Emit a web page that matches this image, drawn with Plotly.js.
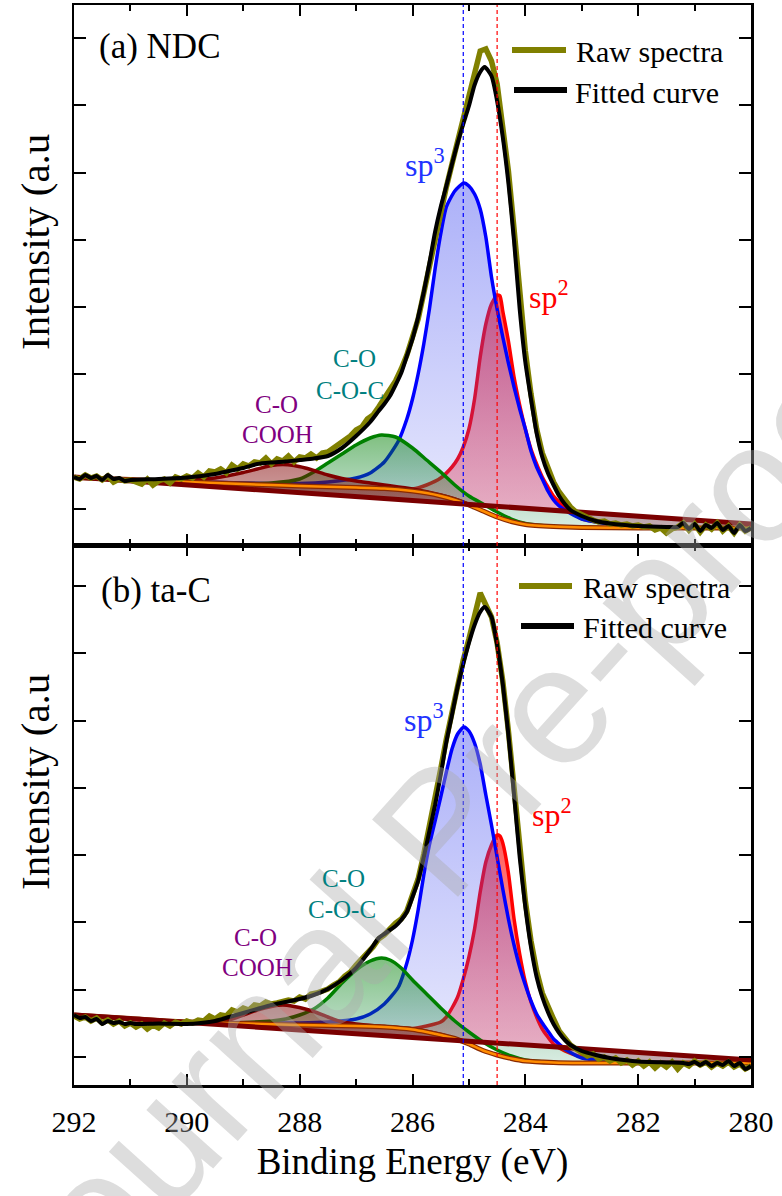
<!DOCTYPE html>
<html><head><meta charset="utf-8">
<script src="https://cdn.plot.ly/plotly-3.0.1.min.js"></script>
<style>html,body{margin:0;padding:0;background:#fff}#chart{width:782px;height:1196px}</style>
</head><body><div id="chart"></div>
<script>
// ---------- shared energy grid of the raw spectra (eV) ----------
const rawE = [292.0,291.9,291.8,291.7,291.6,291.5,291.4,291.3,291.2,291.1,
291.0,290.9,290.8,290.7,290.6,290.5,290.4,290.3,290.2,290.1,
290.0,289.9,289.8,289.7,289.6,289.5,289.4,289.3,289.2,289.1,
289.0,288.9,288.8,288.7,288.6,288.5,288.4,288.3,288.2,288.1,
288.0,287.9,287.8,287.7,287.6,287.5,287.4,287.3,287.2,287.1,
287.0,286.9,286.8,286.7,286.6,286.5,286.4,286.3,286.2,286.1,
286.0,285.9,285.8,285.7,285.6,285.5,285.4,285.3,285.2,285.1,
285.0,284.9,284.8,284.7,284.6,284.5,284.4,284.3,284.2,284.1,
284.0,283.9,283.8,283.7,283.6,283.5,283.4,283.3,283.2,283.1,
283.0,282.9,282.8,282.7,282.6,282.5,282.4,282.3,282.2,282.1,
282.0,281.9,281.8,281.7,281.6,281.5,281.4,281.3,281.2,281.1,
281.0,280.9,280.8,280.7,280.6,280.5,280.4,280.3,280.2,280.1,
280.0];

// ---------- (a) NDC ----------
const raw_a = [32,30,34,31,33,29,33,27,30,28,
29,27,25,30,24,28,30,26,32,30,
33,31,36,32,38,37,40,36,44,40,
45,43,47,46,51,45,50,48,53,47,
52,51,55,51,56,57,61,64,69,73,
79,82,90,94,102,110,118,128,140,154,
172,190,216,242,272,300,322,345,368,392,
412,440,458,460,448,425,385,338,280,215,
158,115,80,56,40,27,17,9,2,-3,
-6,-9,-11,-13,-12,-15,-14,-16,-15,-17,
-16,-18,-17,-21,-19,-24,-20,-18,-14,-21,
-15,-23,-16,-20,-14,-22,-17,-24,-16,-22,
-19];
const fitE_a = [292.0,291.9,291.8,291.7,291.6,291.5,291.4,291.3,291.2,291.1,291.0,290.5,290.0,289.5,289.25,289.0,288.75,288.5,288.25,288.0,287.75,287.5,287.25,287.0,286.75,286.6,286.5,286.4,286.3,286.2,286.1,286.0,285.9,285.8,285.7,285.6,285.5,285.4,285.3,285.2,285.1,285.0,284.9,284.8,284.72,284.6,284.5,284.4,284.3,284.2,284.1,284.0,283.9,283.8,283.7,283.6,283.5,283.4,283.3,283.2,283.0,282.75,282.5,282.0,281.5,281.3,281.2,281.1,281.0,280.9,280.8,280.7,280.6,280.5,280.4,280.3,280.2,280.1,280.0];
const fit_a = [32,30,34,31,33,29,34,30,31,28,29,30,31.5,35,38,41,45,46.5,47.5,49,50.5,53,61,73,87,98,105,113,124,136,153,170,192,217,246,277,302,323,345,366,385,403,424,437,442,433,408,372,326,268,200,147,110,76,52,36,24,13,5,-1,-7,-12,-14.5,-17,-18,-18,-14,-20,-15,-22,-16,-19,-14,-21,-17,-24,-16,-22,-19];
const sp3E_a = [292,291,290,289,288,287.5,287,286.75,286.5,286.25,286.1,286.0,285.9,285.8,285.7,285.6,285.5,285.4,285.25,285.09,285.0,284.9,284.8,284.7,284.6,284.5,284.4,284.3,284.2,284.1,284.0,283.9,283.8,283.7,283.6,283.5,283.4,283.3,283.0,282.5,282.0,281.0,280.0];
const sp3_a = [31.5,29.5,27.5,26,25.5,27,31,36,47,68,90,110,135,165,200,240,275,302,318,326,323,315,300,272,232,200,172,146,122,100,80,58,42,30,18,9,3,-1,-10,-15,-17.5,-19,-19];
const sp2E_a = [292,291,290,289,288,287,286.5,286.0,285.75,285.5,285.3,285.2,285.1,285.0,284.9,284.8,284.7,284.6,284.5,284.45,284.4,284.3,284.2,284.1,284.0,283.9,283.8,283.7,283.6,283.5,283.4,283.3,283.0,282.5,282.0,281.0,280.0];
const sp2_a = [31.5,29.5,27,25,23.5,22,21.5,20,24,31,42,50,62,80,110,152,185,205,214,213,198,168,132,104,80,60,45,32,22,13,7,2,-10,-15,-17.5,-19,-19];
const coocE_a = [292,291,290,289,288.5,288,287.75,287.5,287.25,287,286.75,286.55,286.3,286.0,285.75,285.5,285.25,285.0,284.75,284.5,284.25,284.0,283.5,283.0,282.0,280.0];
const cooc_a = [31.5,29.5,27,25.5,26,30,37,46,55,64,71,74,72,61,49,37,24,13,5,-3,-10,-14.5,-17.5,-18.5,-19,-19];
const coohE_a = [290.5,290.0,289.75,289.5,289.25,289.0,288.75,288.5,288.3,288.1,287.9,287.75,287.5,287.25,287.0,286.75,286.5,286.0,285.5,285.25,285.0];
const cooh_a = [28,28.5,29.5,31,33.5,36.5,40,43.5,44.5,43.5,41,38.5,34,30.5,28,26,24,20,14,10,4.5];
const shirE_a = [292,291,290,289,288,287,286.5,286,285.75,285.5,285.25,285,284.75,284.5,284.25,284,283.5,283,282,280];
const shir_a = [31.5,29.5,27,25,23,21.5,20.5,18,16,13,9,4,-2,-8,-12.5,-15.5,-17.5,-18.5,-19,-19];
const linE = [292, 280];
const lin_a = [32, -15];

// ---------- (b) ta-C ----------
const raw_b = [41,38,40,36,39,34,37,33,36,31,
34,30,33,28,32,29,34,31,35,33,
36,34,37,36,41,38,42,41,47,45,
49,47,52,51,55,53,54,55,57,56,
60,58,63,64,66,68,72,75,81,85,
92,98,104,110,118,122,128,134,138,146,
162,178,203,230,256,288,318,346,372,397,
418,440,464,452,440,414,376,326,268,205,
156,116,86,64,50,38,26,19,12,8,
5,1,3,-2,0,-4,-1,-6,-3,-8,
-4,-9,-5,-11,-6,-10,-5,-12,-6,-9,
-4,-8,-5,-10,-6,-9,-5,-10,-7,-12,
-9];
const fitE_b = [292.0,291.9,291.8,291.7,291.6,291.5,291.4,291.3,291.2,291.1,291.0,290.9,290.5,290.0,289.75,289.5,289.25,289.0,288.75,288.5,288.25,288.0,287.75,287.5,287.25,287.0,286.75,286.6,286.5,286.4,286.3,286.2,286.1,286.0,285.9,285.8,285.7,285.6,285.5,285.4,285.3,285.2,285.1,285.0,284.9,284.8,284.72,284.6,284.5,284.4,284.3,284.2,284.1,284.0,283.9,283.8,283.7,283.6,283.5,283.4,283.3,283.2,283.0,282.75,282.5,282.25,282.0,281.5,281.2,281.1,281.0,280.9,280.8,280.7,280.6,280.5,280.4,280.3,280.2,280.1,280.0];
const fit_b = [42,39,40,36,38,33,36,34,35,33,34,33,33.5,33,34,36,40,44,48,52,55,58,62,68,77,89,107,119,123,127,131,137,145,160,176,200,226,252,282,315,342,370,393,414,432,445,450,440,412,373,322,262,200,150,110,80,60,45,33,24,17,12,6,2,-1,-3,-4.5,-5.5,-6,-7,-5,-8,-5,-9,-6,-8,-4,-9,-6,-12,-9];
const sp3E_b = [292,291,290,289,288,287.5,287,286.75,286.5,286.25,286.1,286.0,285.9,285.8,285.7,285.6,285.5,285.4,285.3,285.2,285.09,285.0,284.9,284.8,284.7,284.6,284.5,284.4,284.3,284.2,284.1,284.0,283.9,283.8,283.7,283.6,283.5,283.4,283.3,283.0,282.5,282.0,281.0,280.0];
const sp3_b = [42,38.5,35,34,34,35,38,43,53,70,94,117,147,182,212,236,260,285,308,323,330,326,314,293,262,232,200,168,138,112,90,72,56,43,34,26,18,13,8,-1,-4,-5,-6,-6];
const sp2E_b = [292,291,290,289,288,287,286.5,286.0,285.75,285.5,285.4,285.3,285.2,285.1,285.0,284.9,284.8,284.7,284.6,284.5,284.45,284.4,284.3,284.2,284.1,284.0,283.9,283.8,283.7,283.6,283.5,283.3,283.0,282.5,282.0,281.0,280.0];
const sp2_b = [42,38.5,35,33.5,32,31,30.5,28.5,31,35,40,49,60,78,100,128,165,195,212,222,221,214,184,138,103,75,55,40,28,20,13,6,0,-4,-5.5,-6,-6];
const coocE_b = [292,291,290,289.5,289,288.5,288.25,288,287.75,287.5,287.25,287,286.75,286.55,286.4,286.2,286.0,285.75,285.5,285.25,285.0,284.75,284.5,284.25,284.0,283.5,283.0,282.0,280.0];
const cooc_b = [42,38.5,35,34,34.5,36,38,42,48,59,74,87,96,99,97,89,77,63,49,36,25,15,7,1,-3,-5.5,-6,-6,-6];
const coohE_b = [290.5,290.0,289.75,289.5,289.25,289.0,288.75,288.5,288.3,288.1,287.9,287.75,287.5,287.25,287.0,286.5,286.0,285.5,285.25,285.0];
const cooh_b = [36.5,35.5,35.5,36,37,42,47,50.5,52,50.5,48,45.5,40,35,33,30.5,28,22.5,18.5,14];
const shirE_b = [292,291,290,289,288,287,286.5,286,285.75,285.5,285.25,285,284.75,284.5,284.25,284,283.5,283,282,280];
const shir_b = [42,38.5,35,33.5,32,31,30,27.5,25,22,18.5,13,6.5,2,-1.5,-4,-5.5,-6,-6,-6];
const lin_b = [42, -3];

// reference peak positions (dashed lines)
const peakPos = [285.1, 284.5];
const xTicks = [292, 290, 288, 286, 284, 282, 280];

// ---------- styling ----------
const SERIF = 'Liberation Serif';
const C = {
  raw:'#808000', fit:'#000000', sp3:'#0000ff', sp2:'#ff0000', cooc:'#008000', cooh:'#800000',
  lin:'#7a0000', shirEdge:'#8a2a00', shir:'#ff8c00'
};
const G = {
  sp2:['rgba(255,100,100,0.4)','rgba(255,20,20,0.7)'],
  sp3:['rgba(70,80,240,0.12)','rgba(70,80,240,0.45)'],
  cooc:['rgba(0,128,60,0.15)','rgba(0,128,0,0.5)'],
  cooh:['rgba(128,0,0,0.35)','rgba(128,0,0,0.5)']
};

function area(E, H, cE, cH, g, xa, ya){
  return {type:'scatter', mode:'lines', x:E.concat(cE), y:H.concat(cH), xaxis:xa, yaxis:ya,
    line:{width:0, color:'rgba(0,0,0,0)'}, fill:'toself', fillcolor:g[1],
    fillgradient:{type:'vertical', colorscale:[[0,g[0]],[1,g[1]]]},
    hoverinfo:'skip', showlegend:false};
}
function curve(E, H, color, width, xa, ya, shape){
  return {type:'scatter', mode:'lines', x:E, y:H, xaxis:xa, yaxis:ya,
    line:{color:color, width:width, shape:shape||'spline', smoothing:0.6}, hoverinfo:'skip', showlegend:false};
}
function panel(d, xa, ya){
  const cE = [linE[1], linE[0]], cH = [d.lin[1], d.lin[0]];
  return [
    area(d.sp2E, d.sp2, cE, cH, G.sp2, xa, ya), curve(d.sp2E, d.sp2, C.sp2, 3.5, xa, ya),
    area(d.sp3E, d.sp3, cE, cH, G.sp3, xa, ya), curve(d.sp3E, d.sp3, C.sp3, 3.5, xa, ya),
    area(d.coocE, d.cooc, cE, cH, G.cooc, xa, ya), curve(d.coocE, d.cooc, C.cooc, 3.5, xa, ya),
    area(d.coohE, d.cooh, [], [], G.cooh, xa, ya), curve(d.coohE, d.cooh, C.cooh, 3.5, xa, ya),
    curve(d.shirE, d.shir, C.shirEdge, 5, xa, ya), curve(d.shirE, d.shir, C.shir, 2.5, xa, ya),
    curve(linE, d.lin, C.lin, 5, xa, ya, 'linear'),
    curve(rawE, d.raw, C.raw, 5.5, xa, ya, 'linear'),
    curve(d.fitE, d.fit, C.fit, 4, xa, ya)
  ];
}
const A = {sp2E:sp2E_a, sp2:sp2_a, sp3E:sp3E_a, sp3:sp3_a, coocE:coocE_a, cooc:cooc_a, coohE:coohE_a, cooh:cooh_a,
  shirE:shirE_a, shir:shir_a, lin:lin_a, raw:raw_a, fitE:fitE_a, fit:fit_a};
const B = {sp2E:sp2E_b, sp2:sp2_b, sp3E:sp3E_b, sp3:sp3_b, coocE:coocE_b, cooc:cooc_b, coohE:coohE_b, cooh:cooh_b,
  shirE:shirE_b, shir:shir_b, lin:lin_b, raw:raw_b, fitE:fitE_b, fit:fit_b};

const traces = panel(A, 'x2', 'y2').concat(panel(B, 'x', 'y'));

const xBase = {
  range:[292, 280], tickmode:'array', tickvals:xTicks, ticktext:xTicks.map(String),
  ticks:'inside', ticklen:11, tickwidth:2, tickcolor:'#000',
  minor:{dtick:1, tick0:280, ticks:'inside', ticklen:6, tickwidth:2, tickcolor:'#000'},
  showline:true, linewidth:2.5, linecolor:'#000', mirror:'ticks', showgrid:false, zeroline:false
};
const yBase = {
  tickmode:'linear', tick0:0, dtick:67.3, ticks:'inside', ticklen:12, tickwidth:2, tickcolor:'#000',
  showticklabels:false, showline:true, linewidth:2.5, linecolor:'#000', mirror:'ticks',
  showgrid:false, zeroline:false
};

function lab(text, x, y, color, size, xanchor, angle){
  const a = {text:text, xref:'paper', yref:'paper', x:x, y:y, showarrow:false,
    xanchor:xanchor||'center', yanchor:'middle', font:{family:SERIF, size:size, color:color}};
  if (angle) a.textangle = angle;
  return a;
}
function px2x(p){ return (p-74)/677; }
function py2y(p){ return (1085-p)/1080; }

const annotations = [
  {text:'Journal Pre-proof', xref:'paper', yref:'paper', x:px2x(440), y:py2y(830), showarrow:false,
   xanchor:'center', yanchor:'middle', textangle:-48,
   font:{family:'Liberation Sans', size:168, color:'rgba(170,170,170,0.4)'}},
  lab('Intensity (a.u', px2x(35), py2y(242), '#000', 41, 'center', -90),
  lab('Intensity (a.u', px2x(35), py2y(782), '#000', 41, 'center', -90),
  lab('(a) NDC', px2x(97), py2y(47), '#000', 35, 'left'),
  lab('(b) ta-C', px2x(99), py2y(590), '#000', 35, 'left'),
  lab('sp<sup>3</sup>', px2x(403), py2y(163), '#2233ff', 32, 'left'),
  lab('sp<sup>2</sup>', px2x(527), py2y(295), '#ff0000', 32, 'left'),
  lab('sp<sup>3</sup>', px2x(402), py2y(718), '#2233ff', 32, 'left'),
  lab('sp<sup>2</sup>', px2x(530), py2y(813), '#ff0000', 32, 'left'),
  lab('C-O', px2x(354), py2y(358), '#008080', 25),
  lab('C-O-C', px2x(350), py2y(390), '#008080', 25),
  lab('C-O', px2x(276), py2y(404), '#800080', 25),
  lab('COOH', px2x(277), py2y(434), '#800080', 25),
  lab('C-O', px2x(343), py2y(878), '#008080', 25),
  lab('C-O-C', px2x(342), py2y(909), '#008080', 25),
  lab('C-O', px2x(255), py2y(937), '#800080', 25),
  lab('COOH', px2x(257), py2y(967), '#800080', 25),
  lab('Raw spectra', px2x(574), py2y(52), '#000', 30, 'left'),
  lab('Fitted curve', px2x(573), py2y(92), '#000', 30, 'left'),
  lab('Raw spectra', px2x(581), py2y(587), '#000', 30, 'left'),
  lab('Fitted curve', px2x(581), py2y(627), '#000', 30, 'left')
];

function legLine(x0, x1, y, color){
  return {type:'line', xref:'paper', yref:'paper', x0:px2x(x0), x1:px2x(x1), y0:py2y(y), y1:py2y(y),
    line:{color:color, width:6}};
}
const shapes = [
  {type:'line', xref:'x', yref:'paper', x0:peakPos[0], x1:peakPos[0], y0:0, y1:1, layer:'above',
   line:{color:'#0000ff', width:1.2, dash:'4px,3px'}},
  {type:'line', xref:'x', yref:'paper', x0:peakPos[1], x1:peakPos[1], y0:0, y1:1, layer:'above',
   line:{color:'#ff0000', width:1.2, dash:'4px,3px'}},
  legLine(512, 566, 50, C.raw), legLine(514, 567, 90, C.fit),
  legLine(519, 572, 586, C.raw), legLine(521, 574, 626, C.fit)
];

const layout = {
  width:782, height:1196, margin:{l:74, r:31, t:5, b:111},
  paper_bgcolor:'#fff', plot_bgcolor:'#fff', showlegend:false,
  font:{family:SERIF, color:'#000'},
  xaxis:Object.assign({}, xBase, {anchor:'y', domain:[0,1], tickfont:{family:SERIF, size:30, color:'#000'},
    ticklabelstandoff:8,
    title:{text:'Binding Energy (eV)', font:{family:SERIF, size:37, color:'#000'}, standoff:12}}),
  xaxis2:Object.assign({}, xBase, {anchor:'y2', matches:'x', showticklabels:false}),
  yaxis:Object.assign({}, yBase, {anchor:'x', domain:[0,0.5], range:[-28,512]}),
  yaxis2:Object.assign({}, yBase, {anchor:'x2', domain:[0.5,1], range:[-36,504]}),
  annotations:annotations, shapes:shapes
};

Plotly.newPlot('chart', traces, layout, {staticPlot:true, displayModeBar:false});
</script></body></html>
